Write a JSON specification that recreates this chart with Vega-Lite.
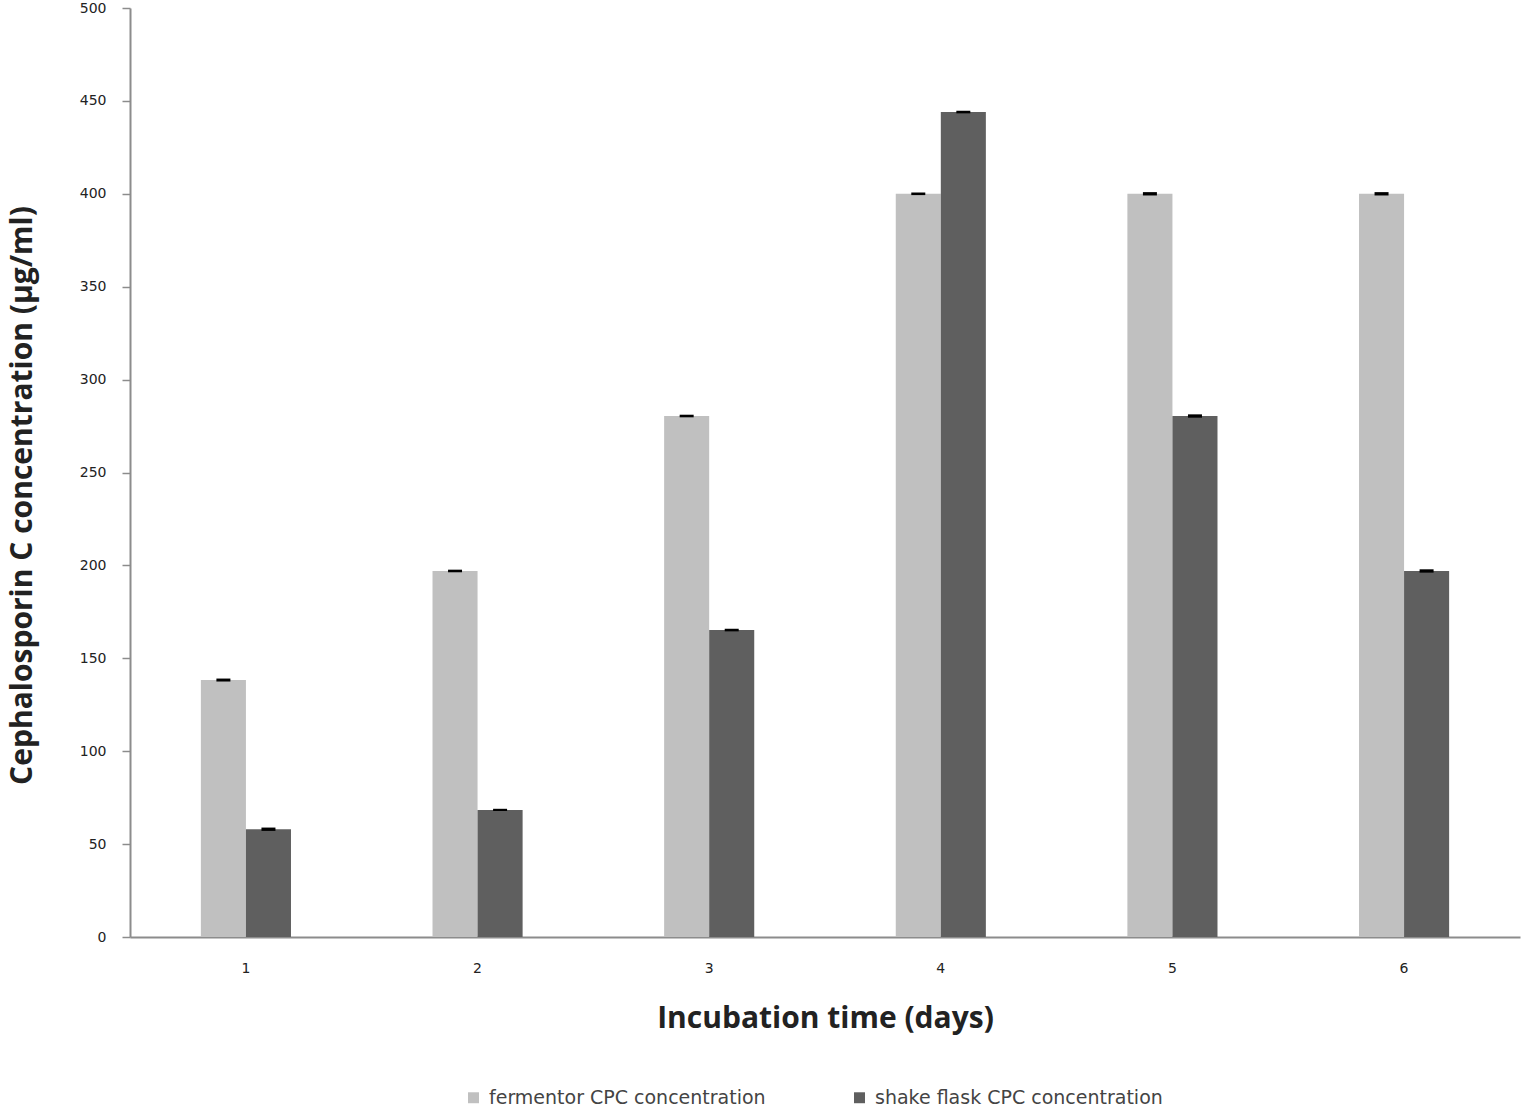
{
  "$schema": "https://vega.github.io/schema/vega-lite/v6.json",
  "autosize": {"type": "none"},
  "width": 1390,
  "height": 929,
  "padding": {"left": 130, "top": 8, "right": 4, "bottom": 176},
  "background": "white",
  "config": {"view": {"stroke": null}},
  "data": {"values": [
    {"day": "1", "series": "fermentor CPC concentration", "value": 138.3, "lo": 137.5, "hi": 139.1},
    {"day": "2", "series": "fermentor CPC concentration", "value": 197, "lo": 196.3, "hi": 197.7},
    {"day": "3", "series": "fermentor CPC concentration", "value": 280.4, "lo": 279.7, "hi": 281.1},
    {"day": "4", "series": "fermentor CPC concentration", "value": 400, "lo": 399.3, "hi": 400.7},
    {"day": "5", "series": "fermentor CPC concentration", "value": 400, "lo": 399.1, "hi": 400.9},
    {"day": "6", "series": "fermentor CPC concentration", "value": 400, "lo": 399.1, "hi": 400.9},
    {"day": "1", "series": "shake flask CPC concentration", "value": 58, "lo": 57.1, "hi": 58.9},
    {"day": "2", "series": "shake flask CPC concentration", "value": 68.4, "lo": 67.8, "hi": 69},
    {"day": "3", "series": "shake flask CPC concentration", "value": 165.2, "lo": 164.5, "hi": 165.9},
    {"day": "4", "series": "shake flask CPC concentration", "value": 444, "lo": 443.3, "hi": 444.7},
    {"day": "5", "series": "shake flask CPC concentration", "value": 280.4, "lo": 279.5, "hi": 281.3},
    {"day": "6", "series": "shake flask CPC concentration", "value": 197, "lo": 196.1, "hi": 197.9}
  ]},
  "encoding": {
    "x": {
      "field": "day", "type": "nominal",
      "scale": {"paddingInner": 0.611, "paddingOuter": 0.306},
      "axis": {
        "title": "Incubation time (days)",
        "titleFont": "Open Sans", "titleFontSize": 30, "titleFontWeight": "bold", "titleColor": "#222",
        "titlePadding": 28,
        "labelAngle": 0, "labelFont": "DejaVu Sans", "labelFontSize": 14, "labelColor": "#222",
        "labelPadding": 24,
        "ticks": false, "domainColor": "#8c8c8c", "domainWidth": 2, "grid": false
      }
    },
    "xOffset": {"field": "series", "type": "nominal", "scale": {"paddingInner": 0, "paddingOuter": 0}}
  },
  "layer": [
    {
      "mark": {"type": "bar"},
      "encoding": {
        "y": {
          "field": "value", "type": "quantitative",
          "scale": {"domain": [0, 500], "nice": false},
          "axis": {
            "title": "Cephalosporin C concentration (µg/ml)",
            "titleFont": "Open Sans", "titleFontSize": 30, "titleFontWeight": "bold", "titleColor": "#222",
            "titlePadding": 42, "titleY": 487,
            "values": [0, 50, 100, 150, 200, 250, 300, 350, 400, 450, 500],
            "labelFont": "DejaVu Sans", "labelFontSize": 14, "labelColor": "#222", "labelPadding": 16,
            "tickColor": "#8c8c8c", "tickSize": 8, "tickWidth": 1.5,
            "domainColor": "#8c8c8c", "domainWidth": 2, "grid": false
          }
        },
        "color": {
          "field": "series", "type": "nominal",
          "scale": {"range": ["#c0c0c0", "#5f5f5f"]},
          "legend": {
            "title": null, "orient": "none", "direction": "horizontal",
            "legendX": 334, "legendY": 1080,
            "symbolType": "square", "symbolSize": 120, "symbolStrokeWidth": 0,
            "labelFont": "DejaVu Sans", "labelFontSize": 19, "labelColor": "#444", "labelLimit": 0,
            "columnPadding": 84, "labelOffset": 6
          }
        }
      }
    },
    {
      "mark": {"type": "bar", "color": "black", "size": 14},
      "encoding": {
        "y": {"field": "lo", "type": "quantitative"},
        "y2": {"field": "hi"}
      }
    }
  ]
}
